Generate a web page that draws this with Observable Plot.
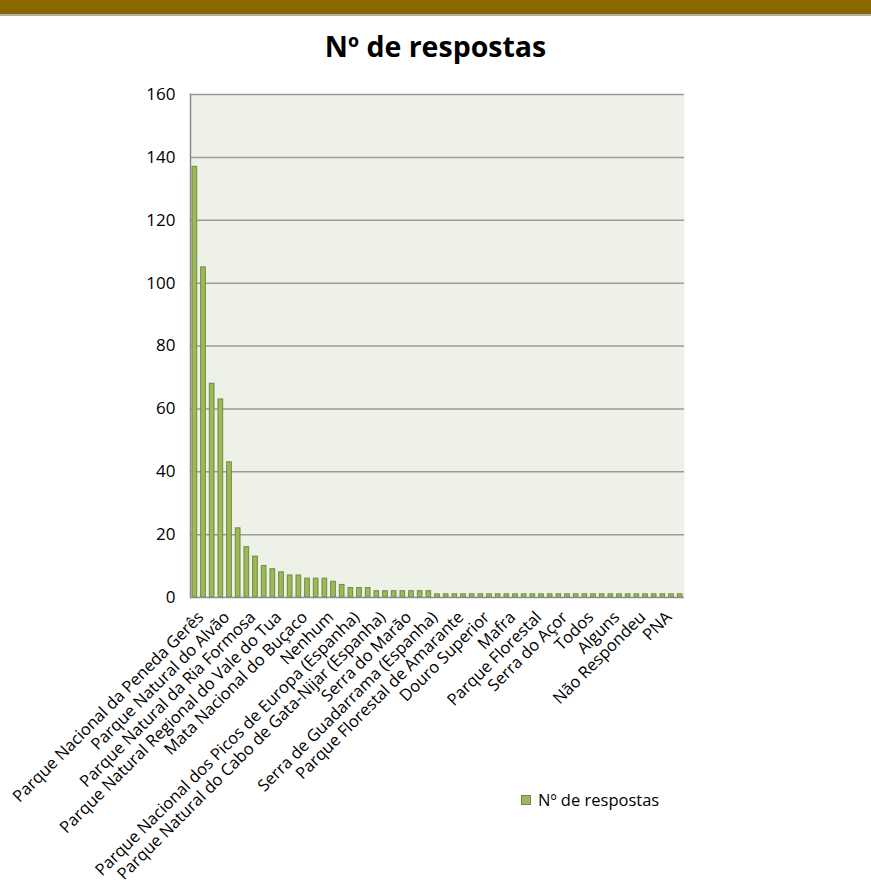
<!DOCTYPE html>
<html>
<head>
<meta charset="utf-8">
<script src="https://cdn.jsdelivr.net/npm/d3@7"></script>
<script src="https://cdn.jsdelivr.net/npm/@observablehq/plot@0.6"></script>
<style>
  html, body { margin: 0; padding: 0; background: #fff; }
  #page { position: relative; width: 871px; height: 884px; overflow: hidden; font-family: "Open Sans", sans-serif; }
  #band { position: absolute; left: 0; top: 0; width: 871px; height: 14px; background: #8B6700; border-bottom: 2px solid #b5b0a0; }
  #title { position: absolute; left: 0; top: 27px; width: 871px; text-align: center; font-size: 28.5px; font-weight: bold; color: #000; }
  #chart { position: absolute; left: 0; top: 0; }
  #legend { position: absolute; left: 521px; top: 788px; font-size: 16.5px; color: #000; display: flex; align-items: center; }
  #legend .sw { width: 8px; height: 8px; background: #9BBB59; border: 1px solid #71893F; margin-right: 7px; }
</style>
</head>
<body>
<div id="page">
  <div id="band"></div>
  <div id="chart"></div>
  <div id="title">Nº de respostas</div>
  <div id="legend"><span class="sw"></span><span>Nº de respostas</span></div>
</div>
<script>
// Tick labels shown (every 3rd category)
const tickLabels = [
  "Parque Nacional da Peneda Gerês",
  "Parque Natural do Alvão",
  "Parque Natural da Ria Formosa",
  "Parque Natural Regional do Vale do Tua",
  "Mata Nacional do Buçaco",
  "Nenhum",
  "Parque Nacional dos Picos de Europa (Espanha)",
  "Parque Natural do Cabo de Gata-Nijar (Espanha)",
  "Serra do Marão",
  "Serra de Guadarrama (Espanha)",
  "Parque Florestal de Amarante",
  "Douro Superior",
  "Mafra",
  "Parque Florestal",
  "Serra do Açor",
  "Todos",
  "Alguns",
  "Não Respondeu",
  "PNA"
];
// Nº de respostas, one value per category (57 categories)
const values = [
  137, 105, 68, 63, 43, 22, 16, 13, 10, 9,
  8, 7, 7, 6, 6, 6, 5, 4, 3, 3,
  3, 2, 2, 2, 2, 2, 2, 2, 1, 1,
  1, 1, 1, 1, 1, 1, 1, 1, 1, 1,
  1, 1, 1, 1, 1, 1, 1, 1, 1, 1,
  1, 1, 1, 1, 1, 1, 1
];
const yTicks = [0, 20, 40, 60, 80, 100, 120, 140, 160];

const data = values.map((v, i) => ({i, v}));
const labelEvery = 3;
const tickIdx = tickLabels.map((_, k) => k * labelEvery);

const chart = Plot.plot({
  width: 871,
  height: 884,
  marginTop: 94,
  marginLeft: 190,
  marginRight: 187,
  marginBottom: 287,
  style: {fontFamily: "Open Sans, sans-serif", fontSize: "16px", color: "#000", background: "transparent", overflow: "visible"},
  x: {type: "band", domain: d3.range(values.length), paddingInner: 0.46, paddingOuter: 0.23, axis: null},
  y: {domain: [0, 160], axis: null},
  marks: [
    Plot.frame({fill: "#EEF1E8", stroke: null}),
    Plot.gridY(yTicks.slice(1), {stroke: "#9a9a9a", strokeOpacity: 1, strokeWidth: 1.5}),
    Plot.barY(data, {x: "i", y: "v", fill: "#9BBB59", stroke: "#71893F", strokeWidth: 1}),
    Plot.frame({anchor: "left", stroke: "#8c8c8c", strokeWidth: 1.5}),
    Plot.ruleY([0], {stroke: "#8c8c8c", strokeWidth: 1.5}),
    Plot.axisY(yTicks, {tickSize: 0, tickPadding: 15, fontSize: 17, label: null}),
    Plot.axisX(tickIdx, {tickSize: 0, tickPadding: 12, dx: 6, dy: 5, tickRotate: -45, fontSize: 16.5, label: null,
      tickFormat: i => tickLabels[i / labelEvery]})
  ]
});
document.getElementById("chart").appendChild(chart);
</script>
</body>
</html>
